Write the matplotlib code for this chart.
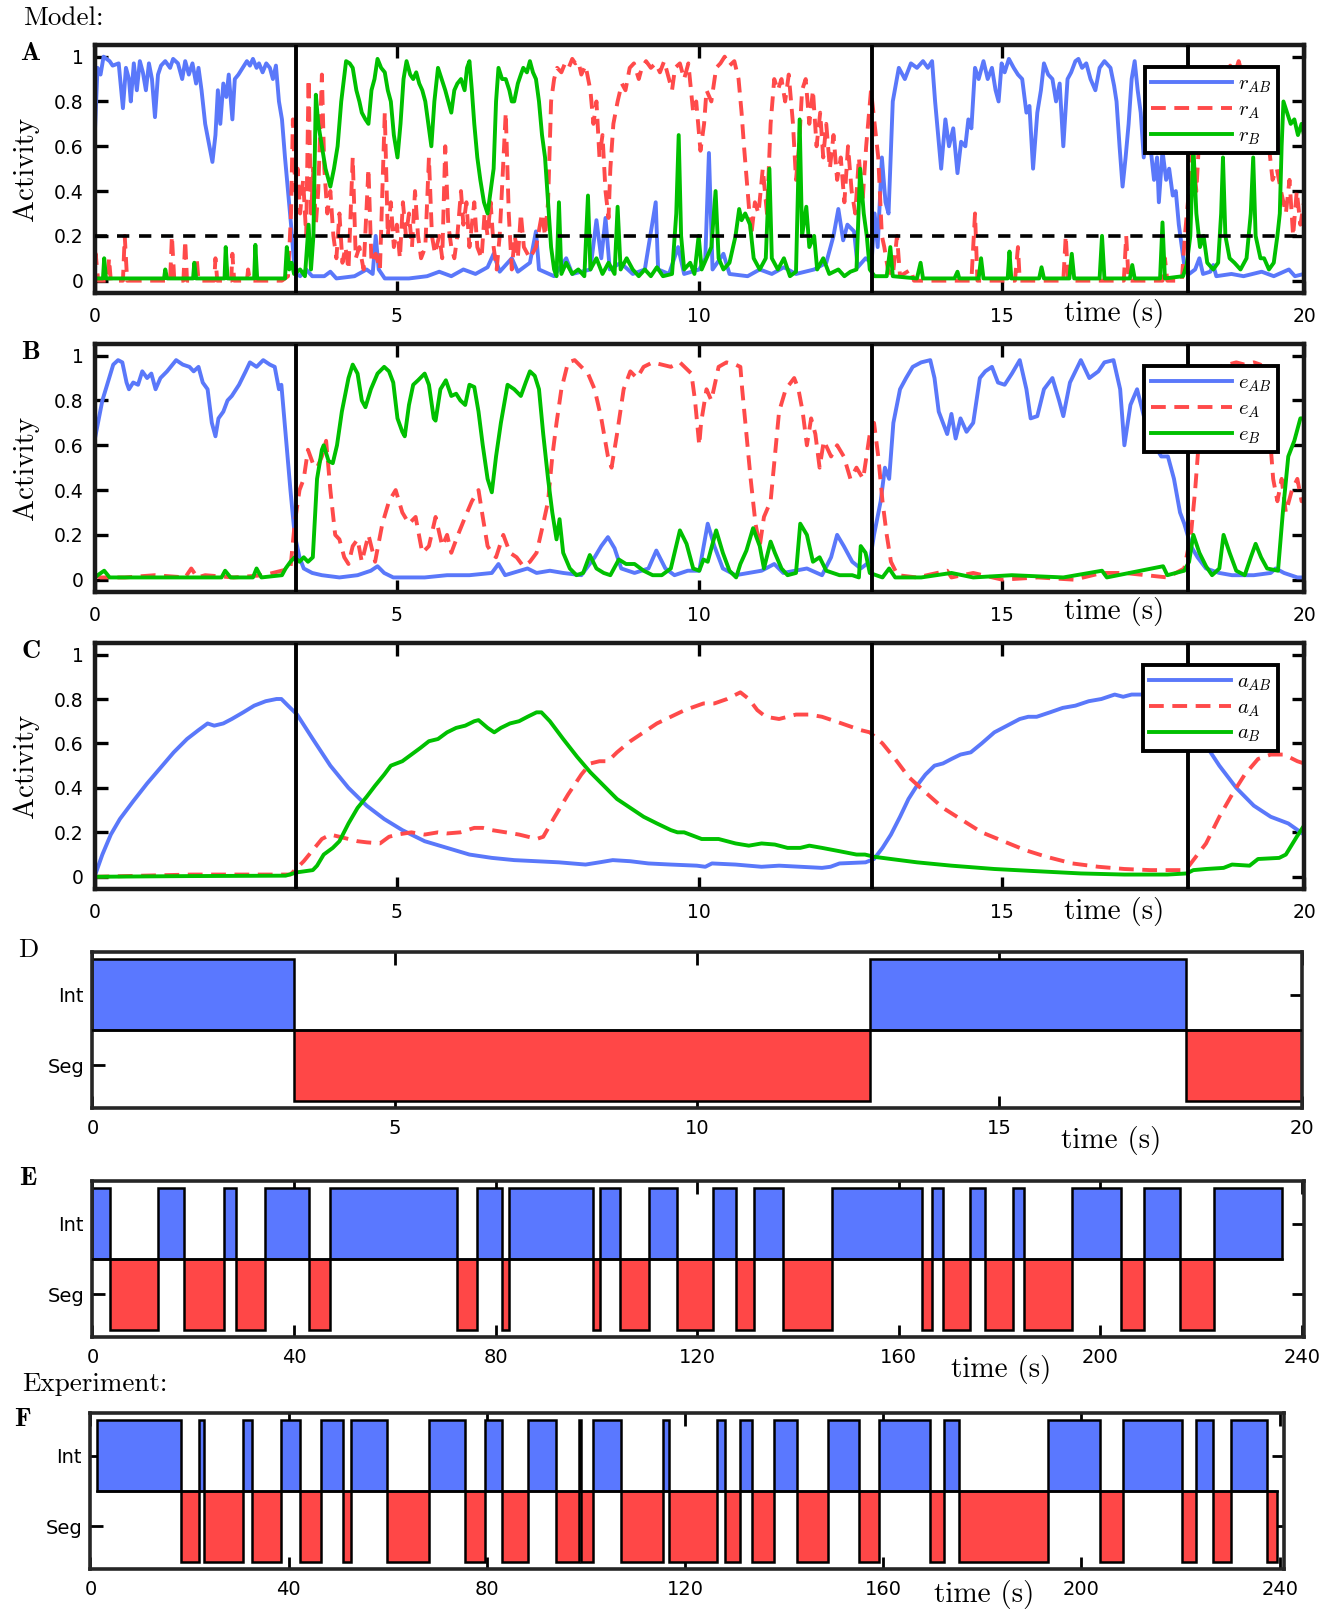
import numpy as np
import matplotlib
matplotlib.use("Agg")
import matplotlib.pyplot as plt
from matplotlib.ticker import FormatStrFormatter

plt.rcParams['mathtext.fontset'] = 'cm'
plt.rcParams['font.family'] = ['DejaVu Sans']

W, H = 1326, 1610

# percept switches of the model run (s)
switch_t = [3.33, 12.86, 18.08]
threshold = 0.2

# ---- A: r populations, (time, activity) knots ----
r_ab = [(0.0, 0.62), (0.05, 0.95), (0.1, 0.92), (0.15, 1.0), (0.25, 0.98), (0.3, 0.96), (0.4, 0.97),
        (0.47, 0.77), (0.52, 0.95), (0.57, 0.9), (0.6, 0.8), (0.65, 0.97), (0.7, 0.85), (0.75, 0.98),
        (0.8, 0.93), (0.85, 0.85), (0.9, 0.97), (0.95, 0.9), (1.0, 0.73), (1.05, 0.92), (1.1, 0.96),
        (1.17, 0.98), (1.25, 0.95), (1.3, 0.99), (1.38, 0.97), (1.45, 0.9), (1.5, 0.98), (1.56, 0.92),
        (1.62, 0.97), (1.68, 0.88), (1.72, 0.95), (1.77, 0.85), (1.83, 0.7), (1.9, 0.6), (1.95, 0.53),
        (2.0, 0.65), (2.04, 0.85), (2.08, 0.7), (2.13, 0.88), (2.18, 0.82), (2.22, 0.92), (2.28, 0.72),
        (2.32, 0.9), (2.38, 0.92), (2.45, 0.95), (2.52, 0.98), (2.57, 0.96), (2.62, 0.99), (2.68, 0.95),
        (2.72, 0.97), (2.78, 0.93), (2.84, 0.97), (2.9, 0.95), (2.95, 0.9), (3.0, 0.96), (3.05, 0.8),
        (3.1, 0.72), (3.15, 0.55), (3.2, 0.4), (3.25, 0.25), (3.3, 0.08), (3.35, 0.03), (3.4, 0.02),
        (3.5, 0.05), (3.6, 0.02), (3.8, 0.02), (3.9, 0.04), (4.0, 0.01), (4.3, 0.02), (4.5, 0.05),
        (4.6, 0.03), (4.65, 0.2), (4.7, 0.05), (4.8, 0.01), (5.2, 0.01), (5.5, 0.02), (5.7, 0.04),
        (5.9, 0.02), (6.1, 0.05), (6.3, 0.03), (6.5, 0.06), (6.6, 0.12), (6.7, 0.04), (6.9, 0.1),
        (7.0, 0.04), (7.2, 0.08), (7.3, 0.22), (7.35, 0.05), (7.6, 0.02), (7.8, 0.1), (7.9, 0.03),
        (8.2, 0.05), (8.3, 0.27), (8.38, 0.1), (8.45, 0.28), (8.52, 0.05), (8.7, 0.08), (8.9, 0.03),
        (9.1, 0.05), (9.28, 0.35), (9.32, 0.05), (9.5, 0.03), (9.65, 0.15), (9.75, 0.03), (10.0, 0.05),
        (10.1, 0.1), (10.16, 0.57), (10.22, 0.05), (10.4, 0.12), (10.5, 0.03), (10.8, 0.02), (11.0, 0.05),
        (11.2, 0.03), (11.4, 0.06), (11.6, 0.03), (11.9, 0.05), (12.1, 0.08), (12.22, 0.2), (12.3, 0.32),
        (12.38, 0.18), (12.45, 0.25), (12.56, 0.22), (12.62, 0.06), (12.75, 0.1), (12.85, 0.08),
        (12.9, 0.3), (12.95, 0.15), (13.02, 0.55), (13.08, 0.35), (13.13, 0.3), (13.2, 0.8), (13.3, 0.95),
        (13.4, 0.9), (13.5, 0.97), (13.6, 0.95), (13.7, 0.98), (13.78, 0.95), (13.85, 0.98), (13.9, 0.8),
        (13.95, 0.65), (14.0, 0.5), (14.07, 0.72), (14.13, 0.6), (14.2, 0.68), (14.27, 0.48), (14.33, 0.62),
        (14.4, 0.6), (14.45, 0.72), (14.5, 0.68), (14.56, 0.95), (14.62, 0.9), (14.7, 0.98), (14.77, 0.9),
        (14.84, 0.95), (14.9, 0.85), (14.95, 0.8), (15.0, 0.97), (15.05, 0.93), (15.12, 0.99), (15.2, 0.95),
        (15.27, 0.92), (15.34, 0.9), (15.41, 0.75), (15.46, 0.78), (15.52, 0.5), (15.59, 0.75), (15.65, 0.85),
        (15.7, 0.97), (15.77, 0.92), (15.84, 0.9), (15.9, 0.8), (15.96, 0.88), (16.02, 0.6), (16.09, 0.9),
        (16.15, 0.93), (16.22, 0.98), (16.27, 0.99), (16.33, 0.95), (16.4, 0.97), (16.47, 0.9), (16.55, 0.85),
        (16.62, 0.95), (16.7, 0.98), (16.8, 0.95), (16.86, 0.87), (16.9, 0.8), (16.95, 0.6), (17.0, 0.42),
        (17.05, 0.55), (17.1, 0.7), (17.15, 0.9), (17.2, 0.98), (17.25, 0.85), (17.3, 0.75), (17.35, 0.55),
        (17.4, 0.7), (17.46, 0.6), (17.52, 0.45), (17.57, 0.55), (17.6, 0.35), (17.66, 0.58), (17.72, 0.45),
        (17.77, 0.5), (17.83, 0.38), (17.88, 0.4), (17.93, 0.25), (17.98, 0.15), (18.03, 0.05), (18.1, 0.03),
        (18.2, 0.05), (18.27, 0.1), (18.33, 0.03), (18.45, 0.04), (18.5, 0.07), (18.55, 0.02), (18.8, 0.03),
        (19.0, 0.02), (19.3, 0.04), (19.5, 0.02), (19.75, 0.05), (19.85, 0.02), (20.0, 0.03)]

r_a = [(0.0, 0.0), (0.02, 0.12), (0.06, 0.0), (0.22, 0.0), (0.24, 0.1), (0.27, 0.0), (0.47, 0.0), (0.5, 0.2),
       (0.54, 0.0), (1.25, 0.0), (1.28, 0.2), (1.32, 0.0), (1.47, 0.0), (1.5, 0.18), (1.53, 0.0), (1.67, 0.0),
       (1.69, 0.1), (1.72, 0.0), (1.98, 0.0), (2.0, 0.1), (2.03, 0.0), (2.26, 0.0), (2.28, 0.12), (2.31, 0.0),
       (2.52, 0.0), (2.54, 0.05), (2.57, 0.0), (3.1, 0.0), (3.2, 0.02), (3.25, 0.3), (3.28, 0.72), (3.32, 0.4),
       (3.36, 0.5), (3.4, 0.3), (3.45, 0.45), (3.5, 0.2), (3.54, 0.9), (3.58, 0.3), (3.62, 0.5), (3.66, 0.25),
       (3.7, 0.4), (3.76, 0.92), (3.8, 0.5), (3.85, 0.3), (3.9, 0.4), (3.95, 0.2), (4.0, 0.1), (4.05, 0.3),
       (4.1, 0.08), (4.15, 0.15), (4.2, 0.05), (4.27, 0.55), (4.32, 0.1), (4.38, 0.15), (4.45, 0.05),
       (4.53, 0.5), (4.58, 0.08), (4.65, 0.12), (4.72, 0.05), (4.8, 0.75), (4.85, 0.2), (4.9, 0.35),
       (4.95, 0.15), (5.0, 0.25), (5.05, 0.1), (5.1, 0.35), (5.15, 0.2), (5.2, 0.3), (5.25, 0.15), (5.3, 0.4),
       (5.35, 0.2), (5.4, 0.1), (5.47, 0.15), (5.53, 0.55), (5.58, 0.2), (5.63, 0.12), (5.7, 0.2), (5.75, 0.1),
       (5.8, 0.6), (5.85, 0.25), (5.9, 0.15), (5.95, 0.1), (6.0, 0.2), (6.06, 0.4), (6.1, 0.25), (6.15, 0.35),
       (6.2, 0.15), (6.28, 0.35), (6.33, 0.15), (6.4, 0.1), (6.45, 0.3), (6.5, 0.2), (6.55, 0.35), (6.6, 0.15),
       (6.65, 0.05), (6.7, 0.2), (6.8, 0.75), (6.85, 0.3), (6.9, 0.05), (6.95, 0.2), (7.0, 0.1), (7.05, 0.3),
       (7.1, 0.15), (7.2, 0.1), (7.3, 0.15), (7.4, 0.3), (7.45, 0.2), (7.5, 0.35), (7.55, 0.8), (7.6, 0.9),
       (7.65, 0.95), (7.72, 0.93), (7.78, 0.97), (7.84, 0.95), (7.9, 0.99), (7.95, 0.97), (8.0, 0.98),
       (8.05, 0.92), (8.12, 0.96), (8.2, 0.85), (8.25, 0.7), (8.3, 0.8), (8.35, 0.55), (8.4, 0.65), (8.45, 0.4),
       (8.5, 0.28), (8.53, 0.5), (8.58, 0.7), (8.65, 0.8), (8.72, 0.88), (8.78, 0.85), (8.85, 0.95),
       (8.92, 0.97), (9.0, 0.9), (9.05, 0.95), (9.12, 0.98), (9.2, 0.95), (9.28, 0.97), (9.35, 0.93),
       (9.42, 0.98), (9.5, 0.9), (9.55, 0.85), (9.6, 0.95), (9.68, 0.97), (9.75, 0.9), (9.82, 0.97),
       (9.9, 0.75), (9.95, 0.8), (10.02, 0.58), (10.08, 0.7), (10.12, 0.85), (10.2, 0.8), (10.28, 0.95),
       (10.35, 0.97), (10.42, 1.0), (10.5, 0.96), (10.58, 0.98), (10.65, 0.9), (10.7, 0.75), (10.74, 0.6),
       (10.8, 0.4), (10.86, 0.2), (10.92, 0.35), (10.98, 0.3), (11.05, 0.5), (11.12, 0.3), (11.18, 0.7),
       (11.24, 0.9), (11.3, 0.85), (11.36, 0.9), (11.42, 0.8), (11.48, 0.92), (11.55, 0.7), (11.6, 0.45),
       (11.65, 0.6), (11.7, 0.85), (11.76, 0.9), (11.82, 0.7), (11.88, 0.85), (11.94, 0.6), (12.0, 0.75),
       (12.05, 0.55), (12.1, 0.7), (12.16, 0.5), (12.22, 0.65), (12.28, 0.45), (12.34, 0.55), (12.4, 0.35),
       (12.46, 0.6), (12.52, 0.4), (12.58, 0.3), (12.64, 0.55), (12.7, 0.35), (12.76, 0.6), (12.84, 0.85),
       (12.9, 0.7), (12.96, 0.55), (13.02, 0.2), (13.06, 0.15), (13.12, 0.05), (13.2, 0.02), (13.27, 0.2),
       (13.32, 0.02), (13.5, 0.05), (13.55, 0.0), (14.5, 0.0), (14.56, 0.3), (14.6, 0.0), (15.22, 0.0),
       (15.27, 0.15), (15.3, 0.0), (16.02, 0.0), (16.06, 0.2), (16.1, 0.0), (17.02, 0.0), (17.06, 0.2),
       (17.1, 0.0), (17.66, 0.0), (17.7, 0.1), (17.74, 0.0), (17.98, 0.0), (18.03, 0.2), (18.08, 0.35),
       (18.15, 0.6), (18.22, 0.4), (18.28, 0.7), (18.34, 0.92), (18.4, 0.85), (18.48, 0.95), (18.55, 0.88),
       (18.62, 0.97), (18.7, 0.9), (18.78, 0.96), (18.85, 0.92), (18.92, 0.98), (19.0, 0.9), (19.1, 0.95),
       (19.2, 0.88), (19.28, 0.93), (19.35, 0.85), (19.42, 0.6), (19.48, 0.45), (19.55, 0.5), (19.62, 0.4),
       (19.7, 0.3), (19.76, 0.45), (19.82, 0.2), (19.88, 0.4), (19.94, 0.25), (20.0, 0.35)]

r_b = [(0.0, 0.01), (0.14, 0.01), (0.16, 0.1), (0.19, 0.01), (1.15, 0.01), (1.17, 0.05), (1.2, 0.01),
       (1.63, 0.01), (1.65, 0.08), (1.68, 0.01), (2.15, 0.01), (2.17, 0.15), (2.2, 0.01), (2.64, 0.01),
       (2.66, 0.16), (2.69, 0.01), (3.15, 0.01), (3.18, 0.15), (3.22, 0.05), (3.26, 0.08), (3.3, 0.03),
       (3.4, 0.05), (3.48, 0.02), (3.54, 0.25), (3.58, 0.05), (3.62, 0.2), (3.66, 0.83), (3.7, 0.7),
       (3.76, 0.6), (3.82, 0.5), (3.9, 0.42), (3.96, 0.5), (4.02, 0.6), (4.08, 0.8), (4.16, 0.98),
       (4.22, 0.97), (4.27, 0.95), (4.33, 0.85), (4.38, 0.8), (4.42, 0.75), (4.48, 0.72), (4.53, 0.7),
       (4.58, 0.85), (4.63, 0.9), (4.68, 0.99), (4.74, 0.95), (4.8, 0.93), (4.85, 0.85), (4.9, 0.8),
       (4.95, 0.65), (5.01, 0.55), (5.06, 0.7), (5.11, 0.9), (5.16, 0.98), (5.22, 0.92), (5.27, 0.9),
       (5.32, 0.93), (5.37, 0.88), (5.42, 0.85), (5.47, 0.8), (5.52, 0.7), (5.57, 0.6), (5.62, 0.8),
       (5.68, 0.95), (5.74, 0.9), (5.8, 0.85), (5.85, 0.8), (5.9, 0.75), (5.95, 0.85), (6.0, 0.88),
       (6.06, 0.9), (6.12, 0.85), (6.16, 0.95), (6.2, 0.98), (6.24, 0.85), (6.28, 0.7), (6.33, 0.55),
       (6.38, 0.45), (6.44, 0.35), (6.5, 0.3), (6.55, 0.4), (6.6, 0.5), (6.64, 0.8), (6.68, 0.95),
       (6.74, 0.9), (6.8, 0.9), (6.86, 0.85), (6.9, 0.8), (6.94, 0.8), (7.0, 0.88), (7.05, 0.92),
       (7.09, 0.95), (7.15, 0.93), (7.2, 0.98), (7.25, 0.93), (7.3, 0.9), (7.35, 0.8), (7.4, 0.65),
       (7.45, 0.55), (7.5, 0.35), (7.55, 0.15), (7.6, 0.05), (7.64, 0.02), (7.68, 0.35), (7.72, 0.03),
       (7.8, 0.08), (7.9, 0.03), (8.0, 0.05), (8.1, 0.02), (8.16, 0.38), (8.2, 0.05), (8.3, 0.1),
       (8.4, 0.03), (8.5, 0.08), (8.6, 0.03), (8.65, 0.33), (8.7, 0.05), (8.8, 0.1), (8.9, 0.05),
       (9.0, 0.02), (9.1, 0.05), (9.2, 0.02), (9.3, 0.06), (9.4, 0.02), (9.55, 0.03), (9.62, 0.3),
       (9.66, 0.65), (9.7, 0.2), (9.75, 0.05), (9.85, 0.08), (9.92, 0.03), (9.99, 0.2), (10.04, 0.05),
       (10.12, 0.1), (10.2, 0.15), (10.27, 0.4), (10.32, 0.1), (10.4, 0.05), (10.5, 0.08), (10.6, 0.2),
       (10.66, 0.32), (10.7, 0.27), (10.76, 0.3), (10.84, 0.25), (10.9, 0.1), (11.0, 0.05), (11.1, 0.1),
       (11.16, 0.5), (11.2, 0.1), (11.3, 0.05), (11.4, 0.1), (11.5, 0.02), (11.6, 0.04), (11.66, 0.72),
       (11.7, 0.2), (11.77, 0.33), (11.82, 0.15), (11.9, 0.2), (11.95, 0.05), (12.05, 0.1), (12.15, 0.03),
       (12.3, 0.05), (12.4, 0.02), (12.5, 0.04), (12.6, 0.05), (12.66, 0.5), (12.72, 0.3), (12.77, 0.2),
       (12.82, 0.05), (12.9, 0.02), (13.1, 0.02), (13.16, 0.15), (13.2, 0.02), (13.6, 0.01), (13.66, 0.08),
       (13.7, 0.01), (14.22, 0.01), (14.27, 0.04), (14.3, 0.01), (14.62, 0.01), (14.66, 0.1), (14.7, 0.01),
       (15.1, 0.01), (15.13, 0.13), (15.16, 0.01), (15.62, 0.01), (15.66, 0.06), (15.7, 0.01), (16.12, 0.01),
       (16.16, 0.12), (16.2, 0.01), (16.62, 0.01), (16.66, 0.2), (16.7, 0.01), (17.12, 0.01), (17.16, 0.07),
       (17.2, 0.01), (17.62, 0.01), (17.66, 0.26), (17.7, 0.01), (18.0, 0.02), (18.06, 0.07), (18.12, 0.2),
       (18.17, 0.6), (18.22, 0.3), (18.28, 0.15), (18.34, 0.2), (18.4, 0.08), (18.5, 0.05), (18.58, 0.08),
       (18.63, 0.3), (18.66, 0.55), (18.7, 0.2), (18.77, 0.1), (18.85, 0.08), (18.95, 0.05), (19.05, 0.1),
       (19.12, 0.3), (19.16, 0.55), (19.2, 0.2), (19.28, 0.1), (19.34, 0.1), (19.42, 0.05), (19.5, 0.08),
       (19.56, 0.2), (19.6, 0.3), (19.63, 0.6), (19.66, 0.8), (19.72, 0.75), (19.78, 0.7), (19.84, 0.72),
       (19.9, 0.65), (19.96, 0.7), (20.0, 0.65)]

# ---- B: e populations ----
e_ab = [(0.0, 0.62), (0.13, 0.8), (0.31, 0.96), (0.39, 0.98), (0.46, 0.97), (0.53, 0.88), (0.57, 0.85),
        (0.64, 0.88), (0.72, 0.87), (0.79, 0.93), (0.87, 0.9), (0.94, 0.92), (1.01, 0.85), (1.09, 0.9),
        (1.2, 0.93), (1.35, 0.98), (1.46, 0.96), (1.57, 0.95), (1.64, 0.93), (1.72, 0.95), (1.79, 0.88),
        (1.87, 0.85), (1.94, 0.7), (2.0, 0.64), (2.05, 0.72), (2.13, 0.75), (2.2, 0.8), (2.27, 0.82),
        (2.39, 0.87), (2.5, 0.93), (2.57, 0.97), (2.68, 0.95), (2.79, 0.98), (2.9, 0.96), (2.98, 0.95),
        (3.05, 0.85), (3.09, 0.87), (3.16, 0.65), (3.24, 0.4), (3.31, 0.2), (3.39, 0.1), (3.46, 0.05),
        (3.6, 0.03), (3.76, 0.02), (4.05, 0.01), (4.35, 0.02), (4.57, 0.04), (4.68, 0.06), (4.79, 0.03),
        (4.94, 0.01), (5.46, 0.01), (5.83, 0.02), (6.2, 0.02), (6.57, 0.03), (6.68, 0.07), (6.79, 0.02),
        (7.16, 0.05), (7.31, 0.03), (7.53, 0.04), (7.75, 0.03), (8.05, 0.02), (8.27, 0.1), (8.38, 0.15),
        (8.49, 0.19), (8.6, 0.14), (8.71, 0.05), (8.93, 0.03), (9.16, 0.05), (9.29, 0.13), (9.44, 0.05),
        (9.59, 0.02), (9.81, 0.04), (10.0, 0.04), (10.14, 0.25), (10.25, 0.15), (10.39, 0.05), (10.6, 0.02),
        (11.03, 0.04), (11.24, 0.07), (11.39, 0.03), (11.78, 0.05), (12.03, 0.02), (12.18, 0.1),
        (12.28, 0.2), (12.39, 0.15), (12.53, 0.08), (12.67, 0.05), (12.82, 0.08), (12.89, 0.2), (13.0, 0.35),
        (13.07, 0.5), (13.14, 0.45), (13.21, 0.7), (13.32, 0.85), (13.42, 0.9), (13.53, 0.95), (13.67, 0.97),
        (13.82, 0.98), (13.89, 0.9), (13.96, 0.75), (14.03, 0.7), (14.1, 0.65), (14.17, 0.74), (14.24, 0.63),
        (14.32, 0.72), (14.42, 0.66), (14.53, 0.7), (14.64, 0.9), (14.73, 0.93), (14.84, 0.95), (14.94, 0.88),
        (15.05, 0.87), (15.17, 0.92), (15.3, 0.98), (15.41, 0.85), (15.48, 0.72), (15.59, 0.73), (15.7, 0.85),
        (15.84, 0.9), (15.95, 0.8), (16.02, 0.73), (16.13, 0.88), (16.31, 0.98), (16.45, 0.9), (16.6, 0.93),
        (16.7, 0.97), (16.85, 0.98), (16.96, 0.85), (17.03, 0.6), (17.13, 0.78), (17.24, 0.85), (17.38, 0.7),
        (17.53, 0.6), (17.64, 0.55), (17.75, 0.55), (17.85, 0.45), (17.95, 0.3), (18.02, 0.25), (18.13, 0.15),
        (18.24, 0.1), (18.38, 0.05), (18.6, 0.03), (18.81, 0.02), (19.17, 0.02), (19.45, 0.03), (19.53, 0.05),
        (19.67, 0.03), (19.89, 0.01), (20.0, 0.01)]

e_a = [(0.0, 0.02), (0.1, 0.01), (0.5, 0.01), (1.0, 0.02), (1.5, 0.01), (1.6, 0.05), (1.7, 0.01),
       (1.83, 0.02), (2.3, 0.01), (2.8, 0.02), (3.24, 0.05), (3.31, 0.25), (3.39, 0.4), (3.46, 0.45),
       (3.53, 0.58), (3.61, 0.52), (3.68, 0.5), (3.76, 0.55), (3.83, 0.62), (3.9, 0.4), (3.98, 0.2),
       (4.05, 0.18), (4.13, 0.1), (4.2, 0.07), (4.27, 0.15), (4.35, 0.18), (4.42, 0.08), (4.53, 0.2),
       (4.64, 0.08), (4.76, 0.25), (4.87, 0.35), (4.98, 0.4), (5.09, 0.3), (5.2, 0.25), (5.31, 0.28),
       (5.42, 0.12), (5.53, 0.15), (5.64, 0.28), (5.75, 0.15), (5.83, 0.2), (5.9, 0.12), (6.01, 0.2),
       (6.13, 0.28), (6.24, 0.35), (6.35, 0.4), (6.42, 0.28), (6.5, 0.15), (6.57, 0.12), (6.64, 0.1),
       (6.76, 0.2), (6.87, 0.12), (6.98, 0.1), (7.09, 0.06), (7.2, 0.08), (7.31, 0.12), (7.42, 0.25),
       (7.5, 0.35), (7.57, 0.55), (7.64, 0.7), (7.72, 0.85), (7.83, 0.97), (7.94, 0.98), (8.05, 0.95),
       (8.16, 0.92), (8.27, 0.85), (8.38, 0.72), (8.49, 0.55), (8.55, 0.5), (8.64, 0.65), (8.75, 0.85),
       (8.86, 0.93), (8.97, 0.9), (9.08, 0.95), (9.23, 0.97), (9.38, 0.96), (9.53, 0.95), (9.68, 0.97),
       (9.87, 0.92), (9.93, 0.8), (10.0, 0.6), (10.03, 0.7), (10.12, 0.85), (10.2, 0.8), (10.32, 0.95),
       (10.45, 0.97), (10.6, 0.96), (10.68, 0.95), (10.71, 0.85), (10.78, 0.65), (10.85, 0.45), (10.93, 0.25),
       (11.0, 0.15), (11.07, 0.28), (11.18, 0.35), (11.25, 0.55), (11.32, 0.75), (11.43, 0.85), (11.57, 0.9),
       (11.64, 0.85), (11.71, 0.75), (11.78, 0.6), (11.85, 0.72), (11.92, 0.65), (11.99, 0.5), (12.06, 0.62),
       (12.18, 0.55), (12.28, 0.6), (12.39, 0.55), (12.5, 0.45), (12.6, 0.5), (12.71, 0.45), (12.82, 0.65),
       (12.89, 0.7), (12.96, 0.55), (13.03, 0.35), (13.1, 0.2), (13.17, 0.08), (13.28, 0.02), (13.6, 0.01),
       (14.1, 0.04), (14.17, 0.01), (14.53, 0.03), (15.01, 0.0), (15.6, 0.01), (16.2, 0.0), (16.66, 0.03),
       (17.03, 0.03), (17.74, 0.01), (18.02, 0.05), (18.13, 0.2), (18.2, 0.4), (18.27, 0.65), (18.35, 0.85),
       (18.45, 0.93), (18.6, 0.95), (18.74, 0.96), (18.88, 0.97), (19.02, 0.96), (19.17, 0.97), (19.28, 0.96),
       (19.35, 0.85), (19.42, 0.7), (19.49, 0.45), (19.56, 0.35), (19.63, 0.45), (19.7, 0.3), (19.8, 0.4),
       (19.89, 0.45), (19.96, 0.35), (20.0, 0.35)]

e_b = [(0.0, 0.01), (0.16, 0.04), (0.25, 0.01), (1.0, 0.01), (2.1, 0.01), (2.16, 0.04), (2.25, 0.01),
       (2.62, 0.01), (2.68, 0.05), (2.76, 0.01), (3.1, 0.02), (3.16, 0.05), (3.24, 0.08), (3.31, 0.1),
       (3.39, 0.08), (3.46, 0.1), (3.53, 0.08), (3.61, 0.1), (3.64, 0.25), (3.68, 0.45), (3.76, 0.58),
       (3.79, 0.6), (3.87, 0.53), (3.94, 0.52), (4.01, 0.6), (4.09, 0.75), (4.2, 0.9), (4.27, 0.96),
       (4.35, 0.92), (4.42, 0.8), (4.48, 0.77), (4.57, 0.85), (4.68, 0.92), (4.79, 0.95), (4.87, 0.93),
       (4.94, 0.88), (5.01, 0.72), (5.09, 0.66), (5.13, 0.64), (5.2, 0.78), (5.27, 0.87), (5.35, 0.89),
       (5.46, 0.92), (5.53, 0.87), (5.61, 0.72), (5.64, 0.71), (5.72, 0.85), (5.81, 0.89), (5.9, 0.82),
       (5.98, 0.83), (6.05, 0.8), (6.13, 0.78), (6.2, 0.87), (6.28, 0.86), (6.35, 0.75), (6.42, 0.6),
       (6.5, 0.45), (6.57, 0.39), (6.64, 0.55), (6.72, 0.7), (6.83, 0.87), (6.94, 0.85), (7.05, 0.82),
       (7.13, 0.88), (7.2, 0.93), (7.28, 0.91), (7.35, 0.85), (7.42, 0.65), (7.5, 0.45), (7.57, 0.3),
       (7.64, 0.18), (7.69, 0.27), (7.75, 0.12), (7.86, 0.05), (7.97, 0.02), (8.08, 0.03), (8.19, 0.11),
       (8.3, 0.05), (8.42, 0.03), (8.53, 0.02), (8.67, 0.09), (8.79, 0.07), (8.93, 0.07), (9.08, 0.04),
       (9.23, 0.02), (9.38, 0.02), (9.53, 0.05), (9.68, 0.22), (9.79, 0.16), (9.9, 0.05), (10.0, 0.04),
       (10.07, 0.09), (10.14, 0.08), (10.28, 0.22), (10.39, 0.12), (10.5, 0.04), (10.61, 0.01), (10.68, 0.07),
       (10.78, 0.13), (10.89, 0.23), (11.0, 0.15), (11.07, 0.05), (11.18, 0.17), (11.25, 0.12), (11.36, 0.05),
       (11.46, 0.02), (11.6, 0.03), (11.67, 0.25), (11.78, 0.2), (11.88, 0.08), (11.99, 0.1), (12.1, 0.04),
       (12.32, 0.02), (12.53, 0.02), (12.64, 0.01), (12.67, 0.15), (12.75, 0.12), (12.82, 0.03), (13.03, 0.01),
       (13.14, 0.05), (13.24, 0.01), (13.67, 0.01), (14.17, 0.03), (14.53, 0.01), (15.17, 0.02), (16.02, 0.01),
       (16.66, 0.04), (16.74, 0.01), (17.67, 0.06), (17.74, 0.02), (18.02, 0.04), (18.1, 0.08), (18.17, 0.2),
       (18.27, 0.12), (18.38, 0.06), (18.48, 0.02), (18.6, 0.05), (18.67, 0.2), (18.77, 0.12), (18.88, 0.04),
       (19.02, 0.02), (19.12, 0.1), (19.2, 0.16), (19.29, 0.1), (19.39, 0.05), (19.57, 0.04), (19.65, 0.3),
       (19.74, 0.55), (19.84, 0.62), (19.94, 0.72), (20.0, 0.72)]

# ---- C: adaptation variables ----
a_ab = [(0.0, 0.0), (0.13, 0.1), (0.27, 0.19), (0.42, 0.26), (0.64, 0.34), (0.87, 0.42), (1.09, 0.49),
        (1.31, 0.56), (1.53, 0.62), (1.72, 0.66), (1.87, 0.69), (1.98, 0.68), (2.13, 0.69), (2.27, 0.71),
        (2.46, 0.74), (2.64, 0.77), (2.83, 0.79), (3.01, 0.8), (3.09, 0.8), (3.2, 0.77), (3.35, 0.73),
        (3.61, 0.62), (3.9, 0.5), (4.2, 0.4), (4.5, 0.32), (4.79, 0.26), (5.09, 0.21), (5.46, 0.16),
        (5.83, 0.13), (6.2, 0.1), (6.57, 0.085), (6.94, 0.075), (7.31, 0.07), (7.68, 0.065), (8.12, 0.055),
        (8.35, 0.065), (8.57, 0.075), (8.86, 0.07), (9.16, 0.06), (9.53, 0.055), (9.96, 0.05), (10.1, 0.045),
        (10.21, 0.06), (10.6, 0.055), (11.03, 0.045), (11.32, 0.05), (12.03, 0.04), (12.17, 0.045),
        (12.32, 0.06), (12.75, 0.065), (12.89, 0.08), (13.03, 0.13), (13.17, 0.19), (13.32, 0.27),
        (13.46, 0.35), (13.6, 0.41), (13.74, 0.46), (13.89, 0.5), (14.03, 0.51), (14.17, 0.53), (14.32, 0.55),
        (14.49, 0.56), (14.67, 0.6), (14.88, 0.65), (15.09, 0.68), (15.3, 0.71), (15.44, 0.72), (15.58, 0.72),
        (15.8, 0.74), (16.01, 0.76), (16.22, 0.77), (16.44, 0.79), (16.65, 0.8), (16.87, 0.82), (17.01, 0.81),
        (17.15, 0.82), (17.3, 0.82), (17.6, 0.82), (17.9, 0.8), (18.1, 0.76), (18.31, 0.62), (18.6, 0.5),
        (18.88, 0.4), (19.17, 0.32), (19.45, 0.27), (19.74, 0.24), (20.0, 0.19)]

a_a = [(0.0, 0.0), (1.6, 0.01), (3.24, 0.01), (3.46, 0.07), (3.61, 0.12), (3.76, 0.17), (3.9, 0.19),
       (4.05, 0.18), (4.2, 0.17), (4.35, 0.16), (4.5, 0.155), (4.72, 0.15), (4.87, 0.18), (5.01, 0.19),
       (5.24, 0.2), (5.46, 0.19), (5.68, 0.2), (5.83, 0.195), (6.05, 0.2), (6.28, 0.22), (6.42, 0.22),
       (6.57, 0.21), (6.8, 0.2), (7.02, 0.19), (7.17, 0.18), (7.31, 0.17), (7.42, 0.18), (7.61, 0.27),
       (7.83, 0.37), (8.05, 0.46), (8.2, 0.51), (8.35, 0.52), (8.49, 0.52), (8.64, 0.56), (8.86, 0.61),
       (9.08, 0.65), (9.3, 0.69), (9.53, 0.72), (9.76, 0.75), (10.07, 0.78), (10.25, 0.78), (10.46, 0.8),
       (10.68, 0.83), (10.82, 0.8), (10.96, 0.75), (11.1, 0.72), (11.32, 0.71), (11.6, 0.73), (11.82, 0.73),
       (12.03, 0.72), (12.25, 0.7), (12.46, 0.68), (12.67, 0.66), (12.82, 0.65), (13.03, 0.6), (13.24, 0.53),
       (13.46, 0.45), (13.74, 0.38), (14.03, 0.31), (14.32, 0.26), (14.67, 0.2), (15.03, 0.16), (15.39, 0.12),
       (15.74, 0.09), (16.17, 0.06), (16.6, 0.045), (17.03, 0.035), (17.46, 0.03), (17.74, 0.03),
       (18.02, 0.03), (18.1, 0.05), (18.38, 0.15), (18.6, 0.27), (18.81, 0.37), (19.02, 0.46), (19.24, 0.53),
       (19.45, 0.55), (19.67, 0.55), (19.89, 0.52), (20.0, 0.51)]

a_b = [(0.0, 0.0), (1.5, 0.003), (3.16, 0.005), (3.35, 0.02), (3.61, 0.03), (3.68, 0.05), (3.79, 0.1),
       (3.94, 0.13), (4.05, 0.16), (4.2, 0.24), (4.35, 0.31), (4.5, 0.36), (4.64, 0.41), (4.79, 0.46),
       (4.9, 0.5), (5.09, 0.52), (5.24, 0.55), (5.39, 0.58), (5.53, 0.61), (5.68, 0.62), (5.83, 0.65),
       (5.98, 0.67), (6.13, 0.68), (6.28, 0.7), (6.35, 0.705), (6.5, 0.67), (6.61, 0.65), (6.72, 0.67),
       (6.87, 0.69), (7.02, 0.7), (7.16, 0.72), (7.31, 0.74), (7.39, 0.74), (7.53, 0.7), (7.75, 0.62),
       (7.98, 0.54), (8.2, 0.47), (8.42, 0.41), (8.64, 0.35), (8.86, 0.31), (9.08, 0.27), (9.3, 0.24),
       (9.53, 0.21), (9.64, 0.2), (9.75, 0.2), (10.04, 0.17), (10.32, 0.17), (10.6, 0.15), (10.82, 0.14),
       (11.03, 0.15), (11.25, 0.145), (11.46, 0.13), (11.67, 0.13), (11.82, 0.14), (12.03, 0.13),
       (12.32, 0.115), (12.6, 0.1), (12.74, 0.1), (12.89, 0.09), (13.17, 0.08), (13.6, 0.065), (14.17, 0.05),
       (14.88, 0.035), (15.59, 0.025), (16.31, 0.015), (17.03, 0.01), (17.74, 0.01), (18.06, 0.015),
       (18.17, 0.03), (18.38, 0.035), (18.67, 0.04), (18.81, 0.055), (19.1, 0.05), (19.24, 0.08),
       (19.59, 0.085), (19.7, 0.1), (19.88, 0.18), (20.0, 0.23)]

# ---- D/E/F: dominant percept, edges of alternating Int/Seg intervals (first = Int) ----
d_edges = [0.0, 3.33, 12.86, 18.08, 20.0]
e_edges = [0.0, 3.4, 13.0, 18.2, 26.2, 28.4, 34.3, 42.9, 47.1, 72.4, 76.4, 81.2, 82.6, 99.3, 100.8,
           104.6, 110.5, 115.9, 123.1, 127.6, 131.3, 137.0, 146.7, 164.5, 166.6, 168.7, 174.1, 177.1,
           182.6, 184.8, 194.3, 204.1, 208.7, 215.8, 222.5, 236.0]
f_edges = [1.3, 18.2, 22.0, 23.0, 30.7, 32.7, 38.5, 42.2, 46.6, 50.9, 52.6, 59.9, 68.4, 75.5, 79.6,
           83.0, 88.4, 93.9, 98.6, 99.1, 101.4, 107.0, 115.6, 116.8, 126.5, 128.0, 131.1, 133.5, 137.9,
           142.7, 148.9, 155.2, 159.1, 169.5, 172.2, 175.3, 193.3, 203.8, 208.3, 220.2, 223.1, 226.6,
           230.2, 237.4, 239.5]

BLUE = '#5a78fa'
RED = '#ff4a4a'
GREEN = '#00c000'
BAR_BLUE = '#5a78ff'
BAR_RED = '#ff4747'
SERIF = 'cmr10'

fig = plt.figure(figsize=(W / 100, H / 100), dpi=100)


def box(left, top, right, bottom):
    # pixel rectangle -> figure fraction
    return [left / W, 1 - bottom / H, (right - left) / W, (bottom - top) / H]


def ftext(x, y, s, **kw):
    fig.text(x / W, 1 - y / H, s, **kw)


def activity_panel(rect, series, names, letter, xlabel_y, thresh=False):
    ax = fig.add_axes(box(*rect))
    for data, name, color in zip(series, names, [BLUE, RED, GREEN]):
        t, v = np.array(data).T
        line, = ax.plot(t, v, color=color, lw=2.8, label=name, zorder=2)
        if color == RED:
            line.set_dashes([3.8, 2.2])
    for t in switch_t:
        ax.axvline(t, color='black', lw=2.8, zorder=4)
    if thresh:
        ax.axhline(threshold, color='black', lw=2.6, dashes=(3.4, 2.7), zorder=3)
    ax.set_xlim(0, 20)
    ax.set_ylim(-0.055, 1.052)
    ax.set_xticks([0, 5, 10, 15, 20])
    ax.set_yticks([0, 0.2, 0.4, 0.6, 0.8, 1.0])
    ax.yaxis.set_major_formatter(FormatStrFormatter('%g'))
    ax.tick_params(direction='in', top=True, right=True, length=9, width=2.4,
                   labelsize=13.5, pad=8)
    ax.tick_params(axis='x', pad=10)
    for s in ax.spines.values():
        s.set_linewidth(3.2)
        s.set_color('#1a1a1a')
    leg = ax.legend(loc='upper right', bbox_to_anchor=(0.9785, 0.91), borderaxespad=0,
                    fancybox=False, edgecolor='black', framealpha=1, fontsize=15,
                    handlelength=3.9, handletextpad=0.3, labelspacing=0.2, borderpad=0.3)
    leg.get_frame().set_linewidth(2.8)
    leg.set_zorder(6)
    top, bottom = rect[1], rect[3]
    ftext(26, (top + bottom) / 2, 'Activity', family=SERIF, rotation=90,
          ha='center', va='center', fontsize=21)
    ftext(31, top + 8, r'$\mathbf{%s}$' % letter, ha='center', va='center', fontsize=19)
    ftext(1114, xlabel_y, 'time (s)', family=SERIF, ha='center', va='center', fontsize=21)
    return ax


def percept_panel(rect, edges, xmax, xticks, letter, letter_xy, xlabel_xy, bold=True):
    ax = fig.add_axes(box(*rect))
    starts = np.array(edges[:-1])
    ends = np.array(edges[1:])
    heights = np.where(np.arange(len(starts)) % 2 == 0, 1.0, -1.0)
    colors = [BAR_BLUE if h > 0 else BAR_RED for h in heights]
    ax.bar(starts, heights, width=ends - starts, align='edge', color=colors,
           edgecolor='black', linewidth=1.8, zorder=2)
    ax.plot([edges[0], edges[-1]], [0, 0], color='black', lw=1.8, zorder=3)
    ax.set_xlim(0, xmax)
    ax.set_ylim(-1.1, 1.1)
    ax.set_xticks(xticks)
    ax.set_yticks([0.5, -0.5], ['Int', 'Seg'])
    ax.tick_params(direction='in', top=True, right=True, length=9, width=2,
                   labelsize=14, pad=6)
    ax.tick_params(axis='x', pad=8)
    for s in ax.spines.values():
        s.set_linewidth(2.6)
        s.set_color('#262626')
    lab = r'$\mathbf{%s}$' % letter if bold else r'$\mathrm{%s}$' % letter
    ftext(letter_xy[0], letter_xy[1], lab, ha='center', va='center', fontsize=19)
    ftext(xlabel_xy[0], xlabel_xy[1], 'time (s)', family=SERIF, ha='center', va='center', fontsize=21)
    return ax


ftext(22.6, 18.5, 'Model:', family=SERIF, ha='left', va='center', fontsize=19.5)

activity_panel((94.5, 45, 1304, 293), [r_ab, r_a, r_b],
               [r'$r_{AB}$', r'$r_A$', r'$r_B$'], 'A', 313, thresh=True)
activity_panel((94.5, 344, 1304, 592), [e_ab, e_a, e_b],
               [r'$e_{AB}$', r'$e_A$', r'$e_B$'], 'B', 612)
activity_panel((94.5, 643, 1304, 889), [a_ab, a_a, a_b],
               [r'$a_{AB}$', r'$a_A$', r'$a_B$'], 'C', 911)

percept_panel((92.4, 952, 1301.6, 1108), d_edges, 20, [0, 5, 10, 15, 20], 'D',
              (28, 950), (1111, 1140), bold=False)
percept_panel((92.4, 1181, 1303.6, 1337), e_edges, 240.3, [0, 40, 80, 120, 160, 200, 240], 'E',
              (28, 1178), (1001, 1369))

ftext(22.6, 1384, 'Experiment:', family=SERIF, ha='left', va='center', fontsize=19.5)
percept_panel((90.4, 1413, 1283.6, 1569), f_edges, 240.8, [0, 40, 80, 120, 160, 200, 240], 'F',
              (23, 1419), (984, 1594))

fig.savefig('out.png', dpi=100)
